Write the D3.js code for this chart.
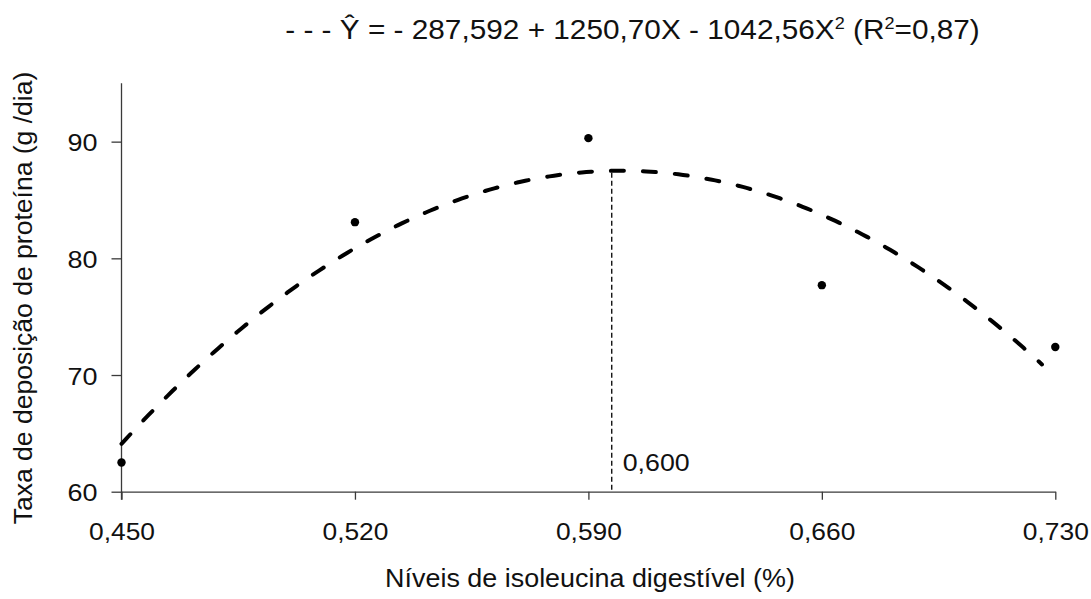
<!DOCTYPE html>
<html>
<head>
<meta charset="utf-8">
<script src="https://cdn.jsdelivr.net/npm/d3@7"></script>
<style>
  html, body { margin: 0; padding: 0; background: #fff; }
  svg { display: block; font-family: "Liberation Sans", Arial, sans-serif; }
</style>
</head>
<body>
<svg id="chart" width="1091" height="599"></svg>
<script>
// ---- data ----
const levels = [0.450, 0.520, 0.590, 0.660, 0.730];          // x values (categories)
const deposition = [62.5, 83.1, 90.3, 77.7, 72.4];            // observed values
const xTickValues = [0.450, 0.520, 0.590, 0.660, 0.730];
const xTickLabels = ["0,450", "0,520", "0,590", "0,660", "0,730"];
const yTickValues = [60, 70, 80, 90];
const yTickLabels = ["60", "70", "80", "90"];
const coefficients = [-287.592, 1250.70, -1042.56];           // Ŷ = a + bX + cX² (from the chart's equation)
const curveRange = [0.450, 0.726];                            // extent of the drawn trend line
const optimumPosition = 0.597;                                 // where the reference draws the marker line
const optimumLabel = "0,600";
const xDomain = [0.450, 0.730];
const yDomain = [60, 95];

const svg = d3.select("#chart");
const x = d3.scaleLinear().domain(xDomain).range([121.5, 1055.3]);
const y = d3.scaleLinear().domain(yDomain).range([491.7, 83.3]);
const axisColor = "#3a3a3a";
const textColor = "#111";

function fitX(sel, cx, cy, target, rotate) {
  const node = sel.node();
  const w = node.getComputedTextLength();
  const k = target / w;
  sel.attr("transform", `translate(${cx},${cy})` + (rotate ? ` rotate(${rotate})` : "") + ` scale(${k},1)`);
}

// ---- axes ----
const xAxis = d3.axisBottom(x).tickValues(xTickValues)
  .tickFormat((d, i) => xTickLabels[i]).tickSizeInner(8).tickSizeOuter(0);
const gx = svg.append("g").attr("transform", `translate(0,${y(60)})`).call(xAxis);
gx.select(".domain").attr("stroke", axisColor).attr("stroke-width", 1.3);
gx.selectAll(".tick line").attr("stroke", axisColor).attr("stroke-width", 1.3);
gx.selectAll(".tick text").attr("font-size", 24).attr("fill", textColor)
  .attr("font-family", "Liberation Sans, Arial, sans-serif")
  .attr("y", 0).attr("dy", 0)
  .each(function() {
    const t = d3.select(this);
    t.attr("text-anchor", "middle");
    const w = this.getComputedTextLength();
    t.attr("transform", `translate(0,48) scale(${66 / w},1)`);
  });

const yAxis = d3.axisLeft(y).tickValues(yTickValues)
  .tickFormat((d, i) => yTickLabels[i]).tickSizeInner(10).tickSizeOuter(0);
const gy = svg.append("g").attr("transform", `translate(${x(0.45)},0)`).call(yAxis);
gy.select(".domain").attr("stroke", axisColor).attr("stroke-width", 1.3);
gy.selectAll(".tick line").attr("stroke", axisColor).attr("stroke-width", 1.3);
gy.selectAll(".tick text").attr("font-size", 24).attr("fill", textColor)
  .attr("font-family", "Liberation Sans, Arial, sans-serif")
  .attr("x", 0).attr("dy", 0).attr("text-anchor", "end")
  .each(function() {
    const w = this.getComputedTextLength();
    d3.select(this).attr("transform", `translate(-24,9) scale(${30 / w},1)`);
  });
// extend x-axis tick at origin (axis crossing) — y axis line continues to tick bottom
gy.select(".domain").attr("d", `M0,${y(95)}V${y(60) + 8}`);

// ---- trend curve ----
const curvePts = d3.range(0, 201).map(i => {
  const xv = curveRange[0] + (curveRange[1] - curveRange[0]) * i / 200;
  return [xv, coefficients[0] + coefficients[1] * xv + coefficients[2] * xv * xv];
});
svg.append("path")
  .datum(curvePts)
  .attr("d", d3.line().x(d => x(d[0])).y(d => y(d[1])))
  .attr("fill", "none").attr("stroke", "#000").attr("stroke-width", 4)
  .attr("stroke-dasharray", "13,19").attr("stroke-linecap", "round");

// ---- optimum marker ----
const optY = coefficients[0] + coefficients[1] * optimumPosition + coefficients[2] * optimumPosition * optimumPosition;
svg.append("line")
  .attr("x1", x(optimumPosition)).attr("x2", x(optimumPosition))
  .attr("y1", y(optY) + 2).attr("y2", y(60))
  .attr("stroke", "#000").attr("stroke-width", 1.3).attr("stroke-dasharray", "5,3");
const optText = svg.append("text").text(optimumLabel)
  .attr("font-size", 24).attr("fill", textColor).attr("text-anchor", "start");
(function() {
  const w = optText.node().getComputedTextLength();
  optText.attr("transform", `translate(${x(optimumPosition) + 11},${471}) scale(${67 / w},1)`);
})();

// ---- points ----
svg.append("g").selectAll("circle").data(levels).join("circle")
  .attr("cx", d => x(d)).attr("cy", (d, i) => y(deposition[i]))
  .attr("r", 4.2).attr("fill", "#000");

// ---- title (equation) ----
const title = svg.append("text").attr("font-size", 28).attr("fill", textColor).attr("text-anchor", "middle");
title.append("tspan").text("- - - Ŷ = - 287,592 + 1250,70X - 1042,56X");
title.append("tspan").text("2").attr("font-size", 17).attr("dy", -10);
title.append("tspan").text(" (R").attr("dy", 10);
title.append("tspan").text("2").attr("font-size", 17).attr("dy", -10);
title.append("tspan").text("=0,87)").attr("dy", 10);
(function() {
  const w = title.node().getBBox().width;
  title.attr("transform", `translate(632.5,39) scale(${695 / w},1)`);
})();

// ---- axis titles ----
const xt = svg.append("text").text("Níveis de isoleucina digestível (%)")
  .attr("font-size", 25).attr("fill", textColor).attr("text-anchor", "middle");
fitX(xt, 590, 587, 410);

const yt = svg.append("text").text("Taxa de deposição de proteína (g /dia)")
  .attr("font-size", 25).attr("fill", textColor).attr("text-anchor", "middle");
fitX(yt, 32, 298, 453, -90);
</script>
</body>
</html>
